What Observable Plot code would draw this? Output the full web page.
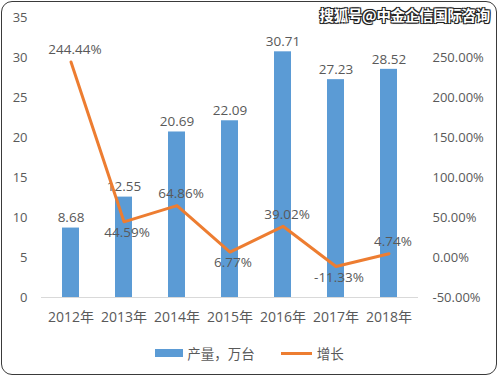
<!DOCTYPE html>
<html><head><meta charset="utf-8">
<script src="https://cdn.jsdelivr.net/npm/d3@7"></script>
<script src="https://cdn.jsdelivr.net/npm/@observablehq/plot@0.6"></script>
<style>
body{margin:0;background:#fff;}
#wrap{position:relative;width:499px;height:377px;overflow:hidden;font-family:"Open Sans","Noto Sans CJK SC",sans-serif;}
#frame{position:absolute;left:1px;top:1px;width:494px;height:372px;border:1.5px solid #3a3a3a;border-radius:11px;box-sizing:content-box;pointer-events:none;}
#wm{position:absolute;right:9px;top:4px;font-family:"Noto Sans CJK SC",sans-serif;font-weight:bold;font-size:14.5px;color:#fff;
 text-shadow:-1px -1px 0 #222,1px -1px 0 #222,-1px 1px 0 #222,1px 1px 0 #222,0 0 2px #000;letter-spacing:-0.3px;}
#legend{position:absolute;top:343px;left:0;width:499px;display:flex;justify-content:center;gap:0;font-size:13.5px;color:#595959;font-family:"Noto Sans CJK SC",sans-serif;}
.item{display:flex;align-items:center;}
.sw{display:inline-block;margin-right:4px;}
svg{position:absolute;left:0;top:0;}
</style></head>
<body><div id="wrap"><div id="chart"></div>
<div id="legend"></div>
<div id="wm">搜狐号@中金企信国际咨询</div>
<div id="frame"></div></div>
<script>
const years = ["2012年","2013年","2014年","2015年","2016年","2017年","2018年"];
const output = [8.68, 12.55, 20.69, 22.09, 30.71, 27.23, 28.52];
const growth = [244.44, 44.59, 64.86, 6.77, 39.02, -11.33, 4.74];
const growthLabelSide = ["above","below","above","below","above","below","above"];
const leftTicks = [0,5,10,15,20,25,30,35];
const rightTicks = [-50,0,50,100,150,200,250];
const seriesNames = ["产量，万台","增长"];

const blue = "#5B9BD5", orange = "#ED7D31", gray = "#595959";
// growth (%) mapped onto left axis units: -50% -> 0, 250% -> 30
const g2y = g => 5 + g / 10;

const bars = years.map((y,i)=>({year:y, v:output[i]}));
const pts = years.map((y,i)=>({year:y, g:growth[i], yy:g2y(growth[i]), side:growthLabelSide[i]}));

const fontFam = '"Open Sans","Noto Sans CJK SC",sans-serif';
const chart = Plot.plot({
  width: 499, height: 377,
  marginTop: 17, marginBottom: 80, marginLeft: 41, marginRight: 81,
  style: {fontFamily: fontFam, fontSize: "12.5px", color: gray, background: "transparent"},
  x: {domain: years, paddingInner: 0.68, paddingOuter: 0.34, label: null},
  y: {domain: [0,35], label: null},
  marks: [
    Plot.axisY({ticks: leftTicks, tickSize: 0, tickPadding: 14, label: null, fill: gray, fontSize: 13}),
    Plot.axisY({anchor: "right", ticks: rightTicks.map(g2y), tickSize: 0, tickPadding: 14, label: null,
      tickFormat: (d) => ((d - 5) * 10).toFixed(2) + "%", fill: gray, fontSize: 13}),
    Plot.axisX({tickSize: 0, tickPadding: 15, label: null, fill: gray, fontSize: 14}),
    Plot.barY(bars, {x: "year", y: "v", fill: blue}),
    Plot.ruleY([0], {stroke: "#D9D9D9", strokeWidth: 1}),
    Plot.text(bars, {x: "year", y: "v", text: d => d.v.toFixed(2), dy: -10, fill: gray, fontSize: 13.5}),
    Plot.line(pts, {x: "year", y: "yy", stroke: orange, strokeWidth: 3, strokeLinejoin: "round"}),
    Plot.text(pts.filter(d=>d.side==="above"), {x: "year", y: "yy", text: d => d.g.toFixed(2) + "%", dy: -12, dx: 4, fill: gray, fontSize: 13.5}),
    Plot.text(pts.filter(d=>d.side==="below"), {x: "year", y: "yy", text: d => d.g.toFixed(2) + "%", dy: 11, dx: 3, fill: gray, fontSize: 13.5})
  ]
});
document.getElementById("chart").appendChild(chart);

const lg = document.getElementById("legend");
lg.innerHTML =
  `<div class="item" style="margin-right:26px"><span class="sw" style="width:28px;height:8px;background:${blue}"></span>${seriesNames[0]}</div>` +
  `<div class="item"><span class="sw" style="width:31px;height:3px;background:${orange};margin-right:5px"></span>${seriesNames[1]}</div>`;
</script>
</body></html>
